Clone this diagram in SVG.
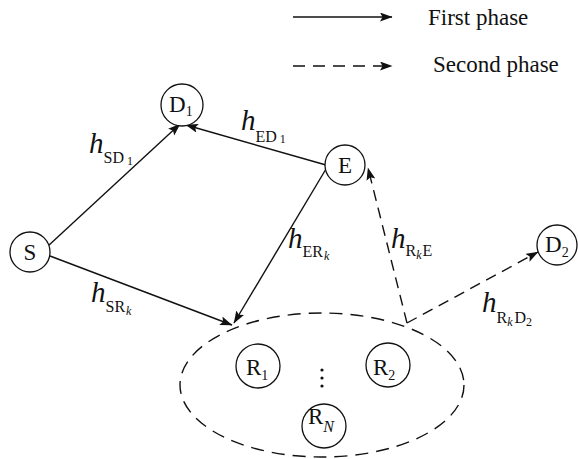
<svg xmlns="http://www.w3.org/2000/svg" width="578" height="459" viewBox="0 0 578 459" font-family="'Liberation Serif', 'Times New Roman', Times, 'DejaVu Serif', serif">
<style>
text{font-family:'Liberation Serif','Times New Roman',Times,'DejaVu Serif',serif;fill:#111}
.node circle{fill:#fff;stroke:#111;stroke-width:1.3}
.nl{font-size:23px}
.ns{font-size:14px}
.h{font-size:29px;font-style:italic}
.s1{font-size:16px}
.s2{font-size:12px}
.k{font-style:italic}
.solid{stroke:#111;stroke-width:1.4;fill:none;marker-end:url(#ah)}
.dash{stroke:#111;stroke-width:1.4;fill:none;stroke-dasharray:11 7;marker-end:url(#ah)}
.leg{font-size:23px}
</style>
<defs>
<marker id="ah" markerUnits="userSpaceOnUse" markerWidth="14" markerHeight="10" refX="12" refY="4.5" orient="auto">
<path d="M0,0 L12.5,4.5 L0,9 L2.5,4.5 Z" fill="#111"/>
</marker>
</defs>
<rect width="578" height="459" fill="#fff"/>

<g id="legend">
<line x1="293" y1="17" x2="392" y2="17" class="solid"/>
<text x="428" y="25" class="leg">First phase</text>
<line x1="293" y1="66" x2="392" y2="66" class="dash" style="stroke-dasharray:12 8"/>
<text x="433" y="72" class="leg">Second phase</text>
</g>

<g id="relay-cluster">
<ellipse cx="322" cy="385" rx="142" ry="72" fill="none" stroke="#111" stroke-width="1.4" stroke-dasharray="13 8"/>
<circle cx="322" cy="370" r="1.6" fill="#111"/>
<circle cx="322" cy="378" r="1.6" fill="#111"/>
<circle cx="322" cy="386" r="1.6" fill="#111"/>
</g>

<g id="connectors">
<line x1="48" y1="246" x2="180" y2="124" class="solid"/>
<line x1="326" y1="165" x2="186" y2="125" class="solid"/>
<line x1="50" y1="256" x2="232" y2="325" class="solid"/>
<line x1="326" y1="169" x2="234" y2="323" class="solid"/>
<line x1="407" y1="323" x2="368" y2="168" class="dash"/>
<line x1="407" y1="323" x2="538" y2="252" class="dash"/>
<text x="89" y="153"><tspan class="h">h</tspan><tspan class="s1" dy="10">SD</tspan><tspan class="s2" dx="3" dy="2">1</tspan></text>
<text x="241" y="130"><tspan class="h">h</tspan><tspan class="s1" dy="12">ED</tspan><tspan class="s2" dx="3" dy="1">1</tspan></text>
<text x="288" y="248"><tspan class="h">h</tspan><tspan class="s1" dy="9">ER</tspan><tspan class="s2 k" dx="1" dy="3">k</tspan></text>
<text x="391" y="248"><tspan class="h">h</tspan><tspan class="s1" dy="8">R</tspan><tspan class="s2 k" dy="3">k</tspan><tspan class="s1" dx="1" dy="-3">E</tspan></text>
<text x="91" y="302"><tspan class="h">h</tspan><tspan class="s1" dy="10">SR</tspan><tspan class="s2 k" dx="1" dy="3">k</tspan></text>
<text x="482" y="312"><tspan class="h">h</tspan><tspan class="s1" dy="11">R</tspan><tspan class="s2 k" dy="3">k</tspan><tspan class="s1" dx="2" dy="-3">D</tspan><tspan class="s2" dy="3">2</tspan></text>
</g>

<g id="S" class="node"><circle cx="30" cy="252" r="20"/><text x="30" y="260" class="nl" text-anchor="middle">S</text></g>
<g id="D1" class="node"><circle cx="182" cy="105" r="21"/><text x="169" y="112" class="nl">D<tspan class="ns" dy="4">1</tspan></text></g>
<g id="E" class="node"><circle cx="345" cy="165" r="20"/><text x="345" y="173" class="nl" text-anchor="middle">E</text></g>
<g id="D2" class="node"><circle cx="557" cy="245" r="20"/><text x="545" y="252" class="nl">D<tspan class="ns" dy="5">2</tspan></text></g>
<g id="R1" class="node"><circle cx="258" cy="366" r="22"/><text x="246" y="375" class="nl">R<tspan class="ns" dy="5">1</tspan></text></g>
<g id="R2" class="node"><circle cx="388" cy="365" r="22"/><text x="373" y="375" class="nl">R<tspan class="ns" dy="5">2</tspan></text></g>
<g id="RN" class="node"><circle cx="324" cy="426" r="22"/><text x="308" y="424" class="nl">R<tspan class="ns k" dy="8" style="font-size:16px">N</tspan></text></g>
</svg>
